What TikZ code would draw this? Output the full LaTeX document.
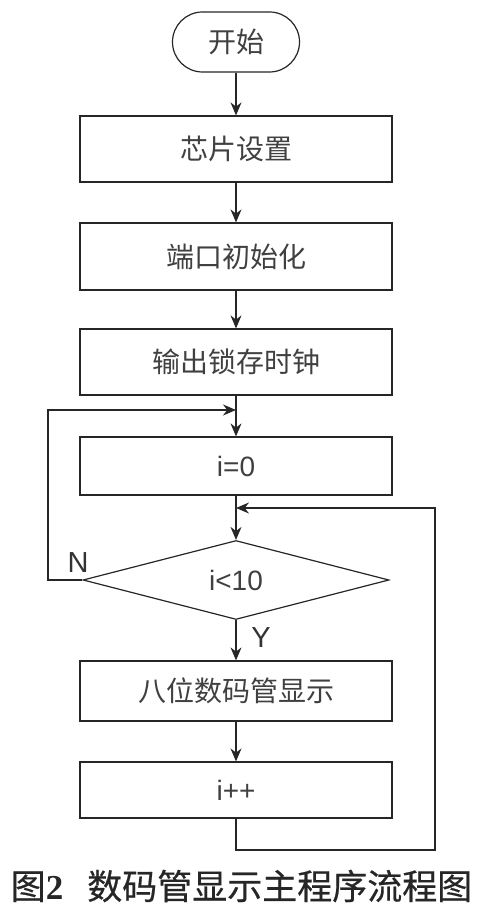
\documentclass[tikz,border=0pt]{standalone}
\usepackage{fontspec}
\setmainfont{Liberation Sans}
\newfontfamily\cjk{Noto Sans CJK SC}
\newfontfamily\cjkcap[FakeBold=0.5]{Noto Sans CJK SC}
\newfontfamily\capnum{Liberation Serif}
\usetikzlibrary{shapes.geometric,arrows.meta}

\tikzset{
    line/.style={draw=black!85, line width=0.6pt},
    arr/.style={line, -{Stealth[length=6.5pt,width=5.5pt]}},
    stepbox/.style={line, rectangle, minimum width=156pt, text=black!75,
        font=\cjk\fontsize{14}{16}\selectfont},
    term/.style={line, rectangle, rounded corners=15pt, minimum width=63.5pt,
        minimum height=30pt, text=black!75, font=\cjk\fontsize{14}{16}\selectfont},
    cond/.style={line, diamond, minimum width=153pt, minimum height=39.5pt,
        inner sep=0pt, text=black!75, font=\fontsize{14}{16}\selectfont},
    lbl/.style={text=black!80, font=\fontsize{14.5}{16}\selectfont}
}

\begin{document}
\begin{tikzpicture}[x=0.5pt, y=-0.5pt]
    \useasboundingbox (0,0) rectangle (481,913);

    % main chain
    \node[term] (start) at (236,42) {开始};
    \node[stepbox, minimum height=33pt] (chip) at (236,149) {芯片设置};
    \node[stepbox, minimum height=33.5pt] (port) at (236,256.5) {端口初始化};
    \node[stepbox, minimum height=33pt] (latch) at (236,362) {输出锁存时钟};
    \node[stepbox, minimum height=29pt, font=\fontsize{14}{16}\selectfont] (zero) at (236,466) {i=0};
    \node[cond] (test) at (236,580) {i<10};
    \node[stepbox, minimum height=30pt] (show) at (236,691) {八位数码管显示};
    \node[stepbox, minimum height=28pt, font=\fontsize{14}{16}\selectfont] (inc) at (236,790) {i++};

    \coordinate (joinA) at (236,410);
    \coordinate (joinB) at (236,508);

    \draw[arr] (start) -- (chip);
    \draw[arr] (chip) -- (port);
    \draw[arr] (port) -- (latch);
    \draw[arr] (latch) -- (zero);
    \draw[arr] (zero) -- (test);
    \draw[arr] (test) -- (show);
    \draw[arr] (show) -- (inc);

    % loops
    \draw[arr] (test.west) -- (48,580) |- (joinA);
    \draw[arr] (inc.south) -- (236,850) -| (435,508) -- (joinB);

    \node[lbl] (no) at (78,563) {N};
    \node[lbl] (yes) at (261,638) {Y};

    % caption
    \node[text=black!85, font=\fontsize{17.5}{19}\selectfont] (cap) at (241.5,886)
        {\cjkcap 图{\capnum\bfseries 2}\hspace{12pt}数码管显示主程序流程图};
\end{tikzpicture}
\end{document}
